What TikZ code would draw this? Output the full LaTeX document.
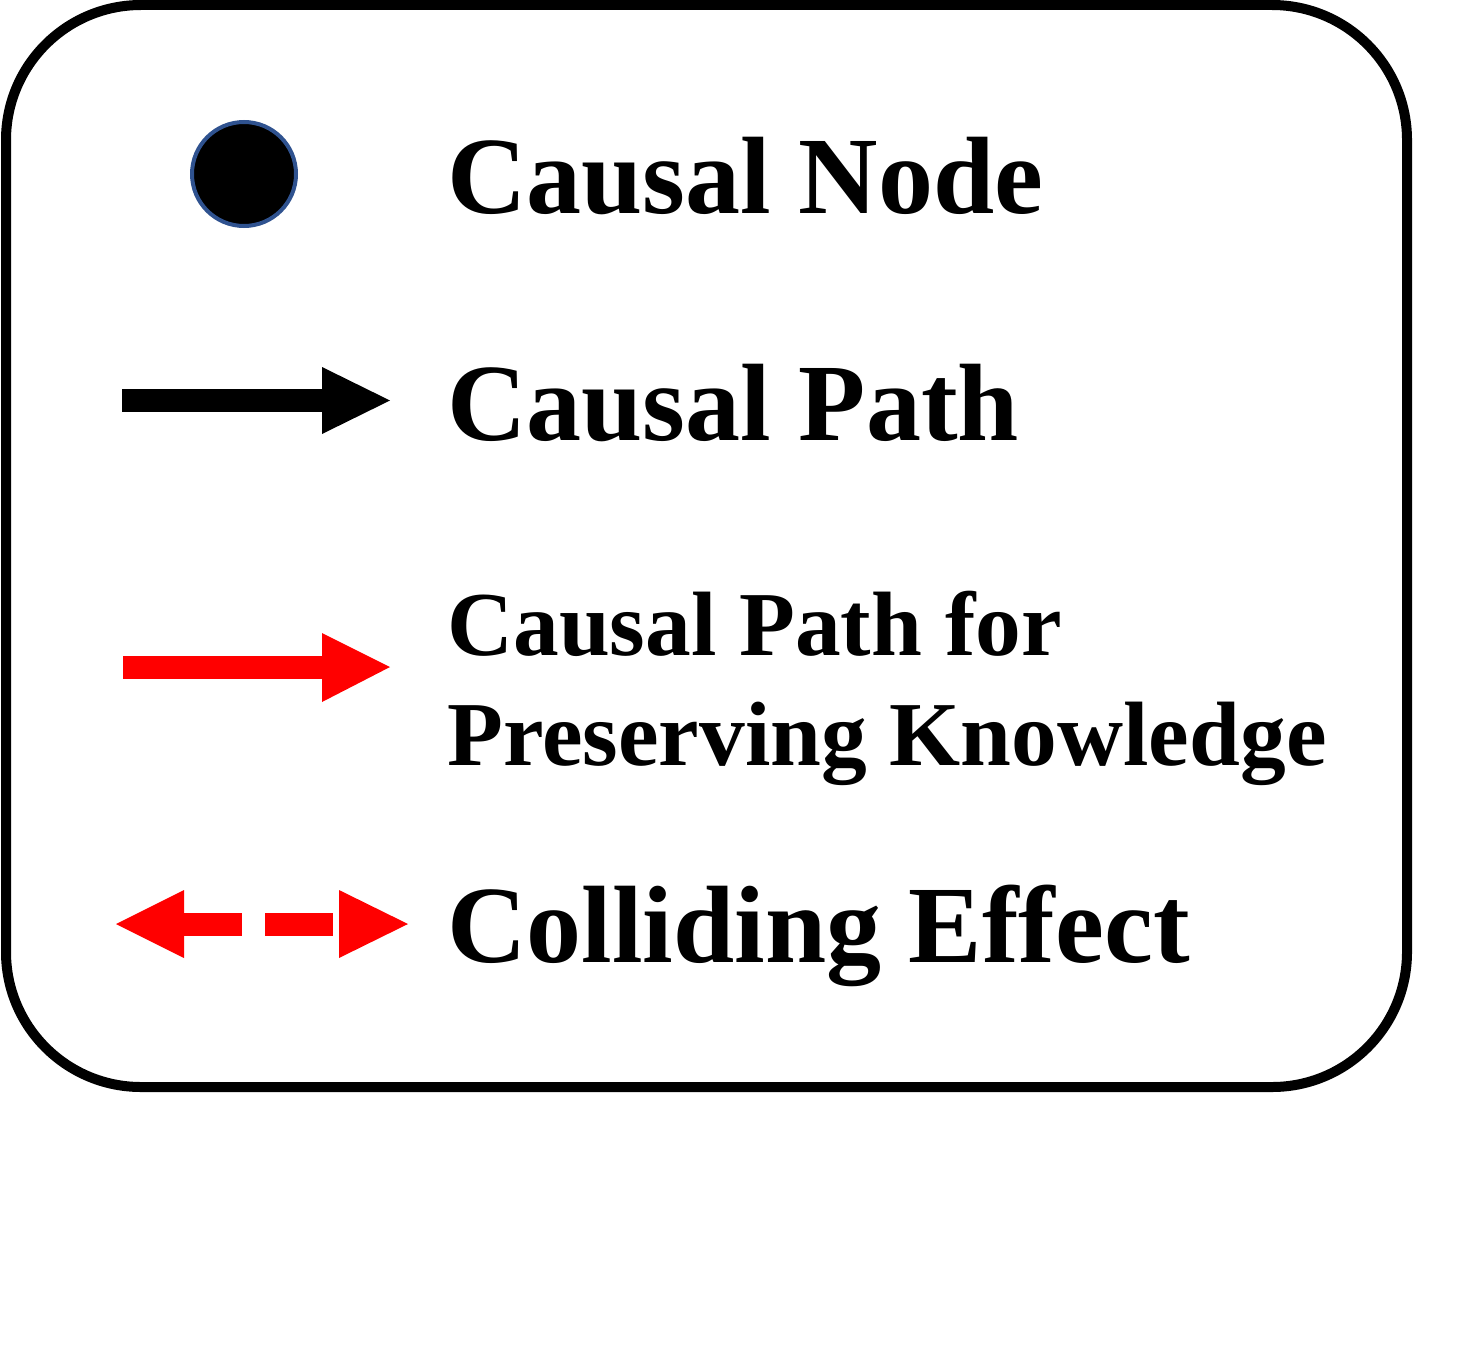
\documentclass[tikz,border=0pt]{standalone}
\usepackage{fontspec}
\setmainfont{Liberation Serif}
\definecolor{nodeblue}{HTML}{2F528F}
\definecolor{pred}{HTML}{FF0000}
\begin{document}
\begin{tikzpicture}[x=0.5pt,y=-0.5pt,
  bigtxt/.style={anchor=base west,inner sep=0pt,font=\fontsize{55}{60}\selectfont\bfseries},
  smalltxt/.style={anchor=base west,inner sep=0pt,font=\fontsize{45.7}{50}\selectfont\bfseries}]
\useasboundingbox (0,0) rectangle (1465,1354);
% frame
\draw[line width=5pt,rounded corners=67.5pt] (6,5) rectangle (1407,1087);
% causal node symbol
\draw[fill=black,draw=nodeblue,line width=2pt] (244,174) circle[radius=26pt];
% black arrow
\fill[black] (122,389) rectangle (322,412);
\fill[black] (322,367) -- (390,400.5) -- (322,434) -- cycle;
% red arrow
\fill[pred] (123,656) rectangle (322,679);
\fill[pred] (322,633) -- (390,667) -- (322,702) -- cycle;
% colliding effect
\fill[pred] (116,924) -- (184,890) -- (184,958) -- cycle;
\fill[pred] (184,913) rectangle (242,936);
\fill[pred] (265,913) rectangle (333,936);
\fill[pred] (339,890) -- (408,924) -- (339,958) -- cycle;
% texts
\node[bigtxt] (t1) at (447,213) {Causal Node};
\node[bigtxt] (t2) at (447,440) {Causal Path};
\node[smalltxt] (t3a) at (447,655) {Causal Path for};
\node[smalltxt] (t3b) at (447,765) {Preserving Knowledge};
\node[bigtxt] (t4) at (447,962) {Colliding Effect};
\end{tikzpicture}
\end{document}
